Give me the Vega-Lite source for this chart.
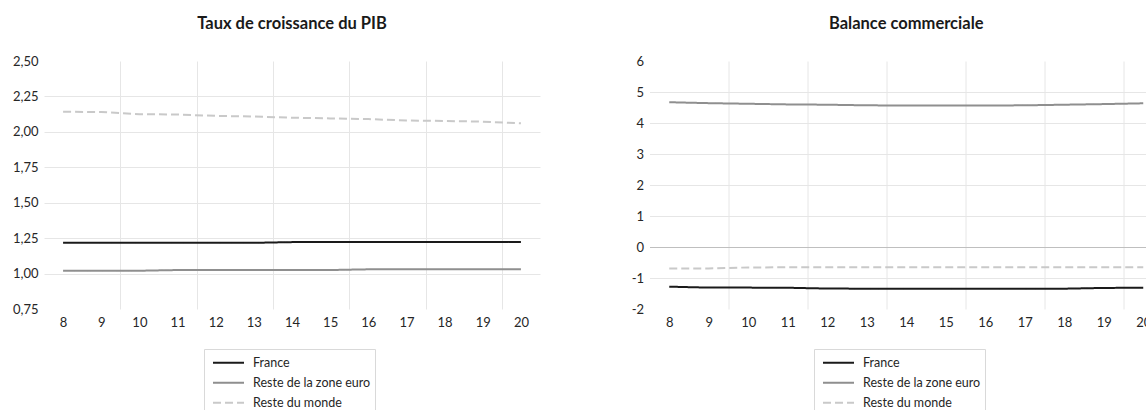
{
  "$schema": "https://vega.github.io/schema/vega-lite/v6.json",
  "background": "white",
  "padding": {"left": 12, "top": 16, "right": 0, "bottom": 0},
  "config": {
    "view": {"stroke": null},
    "font": "Lato",
    "axis": {"labelFont": "Lato", "labelFontSize": 13, "labelColor": "#262626", "domain": false, "ticks": false, "gridColor": "#e6e6e6", "gridWidth": 1, "tickCount": 30, "labelOverlap": false},
    "title": {"font": "Lato", "fontSize": 16.5, "fontWeight": "bold", "color": "#1a1a1a", "anchor": "middle", "frame": "group", "baseline": "alphabetic", "offset": 22.5},
    "legend": {"symbolType": "stroke", "symbolSize": 961, "symbolStrokeWidth": 2, "clipHeight": 19.5, "rowPadding": 0, "symbolOffset": 4, "padding": 4, "labelOffset": 8, "labelFont": "Lato", "labelFontSize": 12.5, "labelColor": "#262626", "strokeColor": "#d9d9d9", "fillColor": "white", "orient": "none", "direction": "vertical"}
  },
  "datasets": {
    "pib": [
      {"annee": 8, "serie": "France", "valeur": 1.217},
      {"annee": 9, "serie": "France", "valeur": 1.217},
      {"annee": 10, "serie": "France", "valeur": 1.217},
      {"annee": 11, "serie": "France", "valeur": 1.217},
      {"annee": 12, "serie": "France", "valeur": 1.217},
      {"annee": 13, "serie": "France", "valeur": 1.217},
      {"annee": 14, "serie": "France", "valeur": 1.222},
      {"annee": 15, "serie": "France", "valeur": 1.222},
      {"annee": 16, "serie": "France", "valeur": 1.222},
      {"annee": 17, "serie": "France", "valeur": 1.222},
      {"annee": 18, "serie": "France", "valeur": 1.222},
      {"annee": 19, "serie": "France", "valeur": 1.222},
      {"annee": 20, "serie": "France", "valeur": 1.222},
      {"annee": 8, "serie": "Reste de la zone euro", "valeur": 1.02},
      {"annee": 9, "serie": "Reste de la zone euro", "valeur": 1.02},
      {"annee": 10, "serie": "Reste de la zone euro", "valeur": 1.02},
      {"annee": 11, "serie": "Reste de la zone euro", "valeur": 1.025},
      {"annee": 12, "serie": "Reste de la zone euro", "valeur": 1.025},
      {"annee": 13, "serie": "Reste de la zone euro", "valeur": 1.025},
      {"annee": 14, "serie": "Reste de la zone euro", "valeur": 1.025},
      {"annee": 15, "serie": "Reste de la zone euro", "valeur": 1.025},
      {"annee": 16, "serie": "Reste de la zone euro", "valeur": 1.03},
      {"annee": 17, "serie": "Reste de la zone euro", "valeur": 1.03},
      {"annee": 18, "serie": "Reste de la zone euro", "valeur": 1.03},
      {"annee": 19, "serie": "Reste de la zone euro", "valeur": 1.03},
      {"annee": 20, "serie": "Reste de la zone euro", "valeur": 1.03},
      {"annee": 8, "serie": "Reste du monde", "valeur": 2.142},
      {"annee": 9, "serie": "Reste du monde", "valeur": 2.14},
      {"annee": 10, "serie": "Reste du monde", "valeur": 2.125},
      {"annee": 11, "serie": "Reste du monde", "valeur": 2.122},
      {"annee": 12, "serie": "Reste du monde", "valeur": 2.113},
      {"annee": 13, "serie": "Reste du monde", "valeur": 2.108},
      {"annee": 14, "serie": "Reste du monde", "valeur": 2.1},
      {"annee": 15, "serie": "Reste du monde", "valeur": 2.095},
      {"annee": 16, "serie": "Reste du monde", "valeur": 2.09},
      {"annee": 17, "serie": "Reste du monde", "valeur": 2.08},
      {"annee": 18, "serie": "Reste du monde", "valeur": 2.077},
      {"annee": 19, "serie": "Reste du monde", "valeur": 2.072},
      {"annee": 20, "serie": "Reste du monde", "valeur": 2.06}
    ],
    "balance": [
      {"annee": 8, "serie": "France", "valeur": -1.28},
      {"annee": 9, "serie": "France", "valeur": -1.31},
      {"annee": 10, "serie": "France", "valeur": -1.31},
      {"annee": 11, "serie": "France", "valeur": -1.315},
      {"annee": 12, "serie": "France", "valeur": -1.34},
      {"annee": 13, "serie": "France", "valeur": -1.345},
      {"annee": 14, "serie": "France", "valeur": -1.345},
      {"annee": 15, "serie": "France", "valeur": -1.345},
      {"annee": 16, "serie": "France", "valeur": -1.345},
      {"annee": 17, "serie": "France", "valeur": -1.345},
      {"annee": 18, "serie": "France", "valeur": -1.345},
      {"annee": 19, "serie": "France", "valeur": -1.32},
      {"annee": 20, "serie": "France", "valeur": -1.315},
      {"annee": 8, "serie": "Reste de la zone euro", "valeur": 4.67},
      {"annee": 9, "serie": "Reste de la zone euro", "valeur": 4.64},
      {"annee": 10, "serie": "Reste de la zone euro", "valeur": 4.62},
      {"annee": 11, "serie": "Reste de la zone euro", "valeur": 4.6},
      {"annee": 12, "serie": "Reste de la zone euro", "valeur": 4.59},
      {"annee": 13, "serie": "Reste de la zone euro", "valeur": 4.57},
      {"annee": 14, "serie": "Reste de la zone euro", "valeur": 4.565},
      {"annee": 15, "serie": "Reste de la zone euro", "valeur": 4.565},
      {"annee": 16, "serie": "Reste de la zone euro", "valeur": 4.565},
      {"annee": 17, "serie": "Reste de la zone euro", "valeur": 4.57},
      {"annee": 18, "serie": "Reste de la zone euro", "valeur": 4.59},
      {"annee": 19, "serie": "Reste de la zone euro", "valeur": 4.61},
      {"annee": 20, "serie": "Reste de la zone euro", "valeur": 4.635},
      {"annee": 8, "serie": "Reste du monde", "valeur": -0.69},
      {"annee": 9, "serie": "Reste du monde", "valeur": -0.69},
      {"annee": 10, "serie": "Reste du monde", "valeur": -0.66},
      {"annee": 11, "serie": "Reste du monde", "valeur": -0.655},
      {"annee": 12, "serie": "Reste du monde", "valeur": -0.655},
      {"annee": 13, "serie": "Reste du monde", "valeur": -0.655},
      {"annee": 14, "serie": "Reste du monde", "valeur": -0.655},
      {"annee": 15, "serie": "Reste du monde", "valeur": -0.655},
      {"annee": 16, "serie": "Reste du monde", "valeur": -0.655},
      {"annee": 17, "serie": "Reste du monde", "valeur": -0.655},
      {"annee": 18, "serie": "Reste du monde", "valeur": -0.655},
      {"annee": 19, "serie": "Reste du monde", "valeur": -0.655},
      {"annee": 20, "serie": "Reste du monde", "valeur": -0.655}
    ]
  },
  "bounds": "flush",
  "spacing": 109.5,
  "resolve": {"scale": {"color": "independent", "strokeDash": "independent"}, "legend": {"color": "independent", "strokeDash": "independent"}},
  "hconcat": [
    {
      "width": 496,
      "height": 248,
      "title": "Taux de croissance du PIB",
      "data": {"name": "pib"},
      "resolve": {"axis": {"x": "independent"}},
      "layer": [
        {
          "mark": {"type": "line", "opacity": 0},
          "encoding": {
            "x": {"field": "annee", "type": "quantitative", "scale": {"domain": [7.5, 20.5], "nice": false, "zero": false},
                  "axis": {"orient": "bottom", "values": [9.5, 11.5, 13.5, 15.5, 17.5, 19.5], "grid": true, "labels": false, "title": null}},
            "y": {"field": "valeur", "type": "quantitative"},
            "detail": {"field": "serie"}
          }
        },
        {
          "mark": {"type": "line", "strokeWidth": 2},
          "encoding": {
            "x": {"field": "annee", "type": "quantitative",
                  "axis": {"orient": "bottom", "values": [8, 9, 10, 11, 12, 13, 14, 15, 16, 17, 18, 19, 20], "grid": false, "labelPadding": 7, "title": null, "labelExpr": "toString(datum.value)"}},
            "y": {"field": "valeur", "type": "quantitative", "scale": {"domain": [0.75, 2.5], "nice": false, "zero": false},
                  "axis": {"values": [0.75, 1, 1.25, 1.5, 1.75, 2, 2.25, 2.5], "grid": true, "labelPadding": 6, "title": null,
                           "labelExpr": "replace(format(datum.value, '.2f'), '.', ',')",
                           "gridOpacity": {"condition": {"test": "datum.value === 0.75 || datum.value === 2.5", "value": 0}, "value": 1}}},
            "color": {"field": "serie", "type": "nominal",
                      "scale": {"domain": ["France", "Reste de la zone euro", "Reste du monde"], "range": ["#1a1a1a", "#8f8f8f", "#c9c9c9"]},
                      "legend": {"title": null, "legendX": 160, "legendY": 288}},
            "strokeDash": {"field": "serie", "type": "nominal",
                           "scale": {"domain": ["France", "Reste de la zone euro", "Reste du monde"], "range": [[1, 0], [1, 0], [8, 4]]},
                           "legend": {"title": null, "legendX": 160, "legendY": 288}}
          }
        }
      ]
    },
    {
      "width": 513.5,
      "height": 248,
      "title": "Balance commerciale",
      "data": {"name": "balance"},
      "resolve": {"axis": {"x": "independent"}},
      "layer": [
        {
          "mark": {"type": "line", "opacity": 0},
          "encoding": {
            "x": {"field": "annee", "type": "quantitative", "scale": {"domain": [7.5, 20.5], "nice": false, "zero": false},
                  "axis": {"orient": "bottom", "values": [9.5, 11.5, 13.5, 15.5, 17.5, 19.5], "grid": true, "labels": false, "title": null}},
            "y": {"field": "valeur", "type": "quantitative"},
            "detail": {"field": "serie"}
          }
        },
        {
          "mark": {"type": "line", "strokeWidth": 2},
          "encoding": {
            "x": {"field": "annee", "type": "quantitative",
                  "axis": {"orient": "bottom", "values": [8, 9, 10, 11, 12, 13, 14, 15, 16, 17, 18, 19, 20], "grid": false, "labelPadding": 7, "title": null, "labelExpr": "toString(datum.value)"}},
            "y": {"field": "valeur", "type": "quantitative", "scale": {"domain": [-2, 6], "nice": false, "zero": false},
                  "axis": {"values": [-2, -1, 0, 1, 2, 3, 4, 5, 6], "grid": true, "labelPadding": 6, "title": null,
                           "labelExpr": "toString(datum.value)",
                           "gridColor": {"condition": {"test": "datum.value === 0", "value": "#bfbfbf"}, "value": "#e6e6e6"},
                           "gridOpacity": {"condition": {"test": "datum.value === -2 || datum.value === 6", "value": 0}, "value": 1}}},
            "color": {"field": "serie", "type": "nominal",
                      "scale": {"domain": ["France", "Reste de la zone euro", "Reste du monde"], "range": ["#1a1a1a", "#8f8f8f", "#c9c9c9"]},
                      "legend": {"title": null, "legendX": 164.5, "legendY": 288}},
            "strokeDash": {"field": "serie", "type": "nominal",
                           "scale": {"domain": ["France", "Reste de la zone euro", "Reste du monde"], "range": [[1, 0], [1, 0], [8, 4]]},
                           "legend": {"title": null, "legendX": 164.5, "legendY": 288}}
          }
        }
      ]
    }
  ]
}
